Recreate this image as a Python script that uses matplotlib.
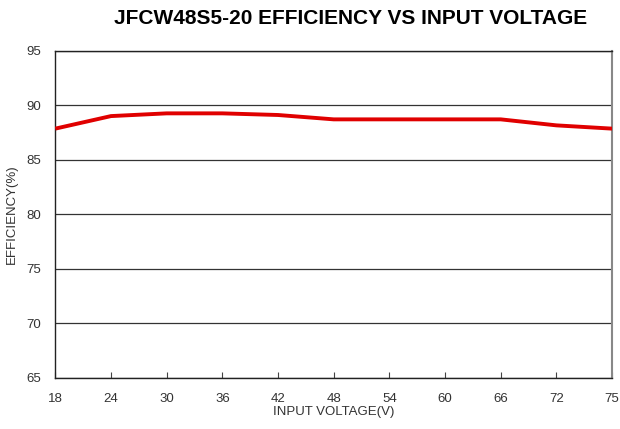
import numpy as np
import matplotlib
matplotlib.use("Agg")
import matplotlib.pyplot as plt

plt.rcParams["font.family"] = ["Liberation Sans", "DejaVu Sans"]

# ── Data ──────────────────────────────────────────────────────────────────────
voltage_labels = ["18", "24", "30", "36", "42", "48", "54", "60", "66", "72", "75"]
efficiency = [87.85, 89.0, 89.25, 89.25, 89.1, 88.7, 88.7, 88.7, 88.7, 88.15, 87.85]
y_ticks = [65, 70, 75, 80, 85, 90, 95]

fig = plt.figure(figsize=(6.2, 4.29), dpi=100)
ax = fig.add_axes([0.0892, 0.119, 0.898, 0.763])

x = np.arange(len(voltage_labels))
ax.plot(x, efficiency, color="#e00000", linewidth=2.8, solid_capstyle="butt", zorder=3)

ax.set_xlim(0, len(voltage_labels) - 1)
ax.set_ylim(65, 95)
ax.set_xticks(x)
ax.set_xticklabels(voltage_labels)
ax.set_yticks(y_ticks)
ax.yaxis.grid(True, color="#333333", linewidth=0.9)
ax.set_axisbelow(True)

ax.tick_params(axis="x", direction="in", length=4, width=0.8, color="#444444",
               labelsize=9.5, labelcolor="#333333", pad=10.5)
ax.tick_params(axis="y", length=0, labelsize=9.5, labelcolor="#333333", pad=10)

for side in ["left", "bottom", "top"]:
    ax.spines[side].set_color("#222222")
    ax.spines[side].set_linewidth(1.0)
ax.spines["right"].set_color("#888888")
ax.spines["right"].set_linewidth(1.5)

ax.set_xlabel("INPUT VOLTAGE(V)", fontsize=9.5, color="#333333", labelpad=1)
ax.set_ylabel("EFFICIENCY(%)", fontsize=9.5, color="#333333", labelpad=6)

fig.text(0.566, 0.957, "JFCW48S5-20 EFFICIENCY VS INPUT VOLTAGE",
         ha="center", va="center", fontsize=15, fontweight="bold")

plt.savefig("out.png", dpi=100)
plt.close()
